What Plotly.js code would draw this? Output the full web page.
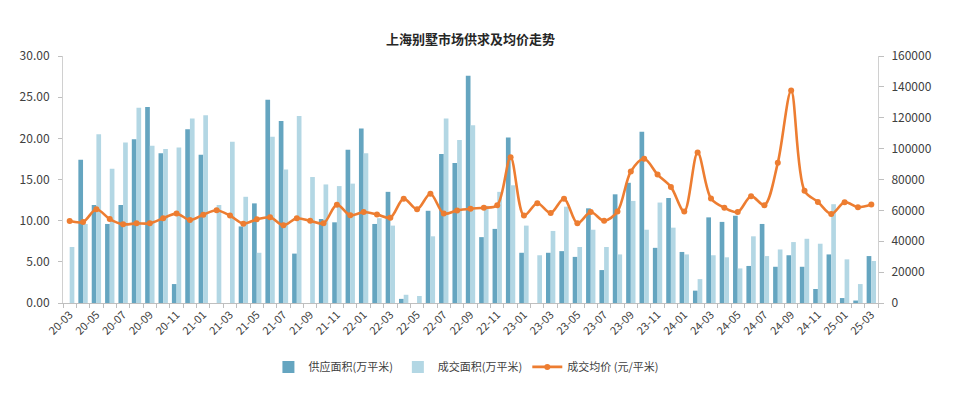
<!DOCTYPE html>
<html>
<head>
<meta charset="utf-8">
<script src="https://cdn.plot.ly/plotly-3.0.1.min.js"></script>
<style>html,body{margin:0;padding:0;background:#fff}#chart{width:960px;height:394px}</style>
</head>
<body>
<div id="chart"></div>
<script>
const months = ["20-03","20-04","20-05","20-06","20-07","20-08","20-09","20-10","20-11","20-12",
"21-01","21-02","21-03","21-04","21-05","21-06","21-07","21-08","21-09","21-10","21-11","21-12",
"22-01","22-02","22-03","22-04","22-05","22-06","22-07","22-08","22-09","22-10","22-11","22-12",
"23-01","23-02","23-03","23-04","23-05","23-06","23-07","23-08","23-09","23-10","23-11","23-12",
"24-01","24-02","24-03","24-04","24-05","24-06","24-07","24-08","24-09","24-10","24-11","24-12",
"25-01","25-02","25-03"];

const supplyArea = [0,17.4,11.9,9.6,11.9,19.9,23.8,18.2,2.3,21.1,
18.0,0,0,9.3,12.1,24.7,22.1,6.0,0,10.2,9.8,18.6,
21.2,9.6,13.5,0.5,0,11.2,18.1,17.0,27.6,8.0,9.0,20.1,
6.1,0,6.1,6.3,5.6,11.5,4.0,13.2,14.6,20.8,6.7,12.75,
6.2,1.5,10.4,9.85,10.6,4.5,9.6,4.4,5.8,4.4,1.7,5.9,
0.6,0.3,5.7];

const salesArea = [6.8,9.6,20.5,16.3,19.5,23.7,19.1,18.7,18.9,22.4,
22.8,11.9,19.6,12.9,6.1,20.2,16.2,22.7,15.3,14.4,14.2,14.5,
18.2,10.3,9.4,1.0,0.85,8.1,22.4,19.8,21.6,11.8,13.5,14.3,
9.4,5.8,8.75,11.7,6.8,8.9,6.8,5.9,12.4,8.9,12.2,9.15,
5.9,2.9,5.8,5.55,4.2,8.1,5.7,6.5,7.4,7.8,7.2,12.0,
5.3,2.3,5.1];

const avgPrice = [53100,52500,60700,54400,51000,51600,51600,54900,57900,53800,
57200,60100,56600,51400,54200,55500,50300,54900,53200,51600,63700,56800,
58900,57400,55300,67600,60700,70800,57900,60000,61100,61700,63300,94400,
56600,64600,58300,67600,51600,58900,53200,59300,85200,93400,83200,75200,
59300,97500,67700,61700,58900,69200,63400,90800,137600,72700,65500,57600,
65300,62100,63800];

const tickLabels = months.map((m, i) => (i % 2 === 0 ? m : ""));

const FONT = "'Noto Sans CJK SC', 'Noto Sans', sans-serif";

const traces = [
  {
    type: "bar", name: "供应面积(万平米)", x: months, y: supplyArea,
    marker: {color: "#65a5c0"}, yaxis: "y"
  },
  {
    type: "bar", name: "成交面积(万平米)", x: months, y: salesArea,
    marker: {color: "#b3d7e4"}, yaxis: "y"
  },
  {
    type: "scatter", mode: "lines+markers", name: "成交均价 (元/平米)", x: months, y: avgPrice,
    yaxis: "y2",
    line: {color: "#ed7d31", width: 2.6, shape: "spline", smoothing: 0.9},
    marker: {color: "#ed7d31", size: 6}
  }
];

const layout = {
  width: 960, height: 394,
  margin: {l: 63, r: 82, t: 56, b: 91},
  paper_bgcolor: "#ffffff", plot_bgcolor: "#ffffff",
  font: {family: FONT, size: 11, color: "#404040"},
  title: {
    text: "<b>上海别墅市场供求及均价走势</b>",
    x: 0.49, xanchor: "center", y: 0.9, yanchor: "middle",
    font: {family: FONT, size: 13, color: "#262626"}
  },
  barmode: "group", bargap: 0.3, bargroupgap: 0,
  showlegend: true,
  legend: {
    orientation: "h", x: 0.495, xanchor: "center", y: -0.2, yanchor: "top",
    font: {family: FONT, size: 11, color: "#404040"},
    itemwidth: 30, traceorder: "normal"
  },
  xaxis: {
    type: "category",
    range: [-0.5, months.length - 0.5],
    tickmode: "array", tickvals: months, ticktext: tickLabels,
    tickangle: -45, tickson: "boundaries",
    ticks: "outside", ticklen: 4, tickcolor: "#bfbfbf",
    showline: true, linecolor: "#bfbfbf", linewidth: 1,
    showgrid: false, zeroline: false,
    tickfont: {family: FONT, size: 11, color: "#404040"}
  },
  yaxis: {
    range: [0, 30], dtick: 5, tickformat: ".2f",
    ticks: "outside", ticklen: 4, tickcolor: "#bfbfbf",
    ticklabelstandoff: 6,
    showline: true, linecolor: "#d0d0d0", linewidth: 1,
    showgrid: false, zeroline: false,
    tickfont: {family: FONT, size: 12, color: "#404040"}
  },
  yaxis2: {
    overlaying: "y", side: "right",
    range: [0, 160000], dtick: 20000, tickformat: "d",
    ticks: "outside", ticklen: 5, tickcolor: "#bfbfbf",
    ticklabelstandoff: 5,
    showline: true, linecolor: "#d0d0d0", linewidth: 1,
    showgrid: false, zeroline: false,
    tickfont: {family: FONT, size: 12, color: "#404040"}
  }
};

Plotly.newPlot("chart", traces, layout, {displayModeBar: false, responsive: false});
</script>
</body>
</html>
